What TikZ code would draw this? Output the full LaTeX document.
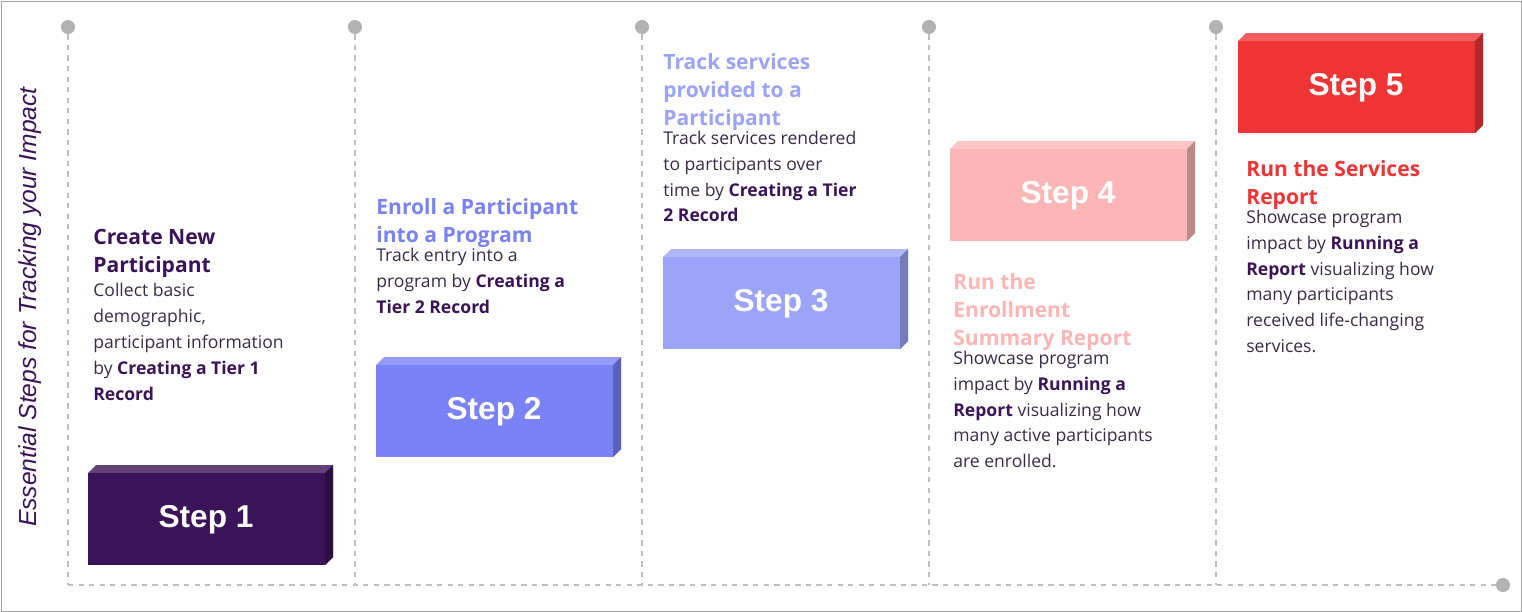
\documentclass[tikz,border=0pt]{standalone}
\usepackage{fontspec}
\setmainfont{Open Sans}
\newfontfamily\arialfont{Liberation Sans}
\usepackage{tikz}
\definecolor{stpA}{HTML}{3B1358}
\definecolor{stpB}{HTML}{7A82F7}
\definecolor{stpC}{HTML}{9CA4FA}
\definecolor{stpD}{HTML}{FDB6B6}
\definecolor{stpE}{HTML}{EE3434}
\definecolor{bodytxt}{HTML}{3A2A4A}
\tikzset{
  guide/.style = {draw=black!25, dashed, line width=1pt},
  pin/.style = {circle, fill=black!30, inner sep=0pt, minimum size=8pt},
  steplbl/.style = {font=\arialfont\bfseries\fontsize{18}{20}\selectfont, text=white},
  stepttl/.style = {anchor=north west, align=left, inner sep=0pt,
    font=\bfseries\fontsize{12}{15.9}\selectfont},
  stepbody/.style = {anchor=north west, align=left, inner sep=0pt, text=bodytxt,
    font=\fontsize{10}{14.7}\selectfont}
}
\begin{document}
\begin{tikzpicture}[x=0.02cm, y=-0.02cm]
\useasboundingbox (0,0) rectangle (1522,612);
\draw[black!35] (1,1) rectangle (1521,611);
% guides
\foreach \gx/\gn in {68/a,355/b,642/c,929/d,1216/e} {
  \node[pin] (pin\gn) at (\gx,27) {};
  \coordinate (foot\gn) at (\gx,585);
  \draw[guide] (pin\gn) -- (foot\gn);
}
\node[pin] (pinend) at (1503,585) {};
\draw[guide] (foota) -- (pinend);
% step boxes
\foreach \bx/\by/\bc/\bn in {88/473/stpA/1,376/365/stpB/2,663/257/stpC/3,950/149/stpD/4,1238/41/stpE/5} {
  \fill[\bc!80!white] (\bx,\by) -- ++(8,-8) -- ++(237,0) -- ++(0,92) -- ++(-8,8) -- cycle;
  \fill[\bc!75!black] (\bx+237,\by) -- ++(8,-8) -- ++(0,92) -- ++(-8,8) -- cycle;
  \fill[\bc] (\bx,\by) rectangle ++(237,92);
  \node[steplbl] (step\bn) at (\bx+118,\by+47) {Step \bn};
}
% texts
\node[stepttl, text=stpA] (ttlA) at (93,229) {Create New\\Participant};
\node[stepbody] (bodyA) at (ttlA.south west) [yshift=-3pt] {Collect basic\\demographic,\\participant information\\by \textbf{\color{stpA}Creating a Tier 1}\\\textbf{\color{stpA}Record}};
\node[stepttl, text=stpB] (ttlB) at (376,198) {Enroll a Participant\\into a Program};
\node[stepbody] (bodyB) at (ttlB.south west) {Track entry into a\\program by \textbf{\color{stpA}Creating a}\\\textbf{\color{stpA}Tier 2 Record}};
\node[stepttl, text=stpC] (ttlC) at (663,53) {Track services\\provided to a\\Participant};
\node[stepbody] (bodyC) at (ttlC.south west) {Track services rendered\\to participants over\\time by \textbf{\color{stpA}Creating a Tier}\\\textbf{\color{stpA}2 Record}};
\node[stepttl, text=stpD] (ttlD) at (953,273) {Run the\\Enrollment\\Summary Report};
\node[stepbody] (bodyD) at (ttlD.south west) {Showcase program\\impact by \textbf{\color{stpA}Running a}\\\textbf{\color{stpA}Report} visualizing how\\many active participants\\are enrolled.};
\node[stepttl, text=stpE] (ttlE) at (1246,160) {Run the Services\\Report};
\node[stepbody] (bodyE) at (ttlE.south west) {Showcase program\\impact by \textbf{\color{stpA}Running a}\\\textbf{\color{stpA}Report} visualizing how\\many participants\\received life-changing\\services.};
\node[rotate=90, text=stpA, font=\arialfont\itshape\fontsize{14}{16}\selectfont] (sidettl) at (30,307) {Essential Steps for Tracking your Impact};
\end{tikzpicture}
\end{document}
